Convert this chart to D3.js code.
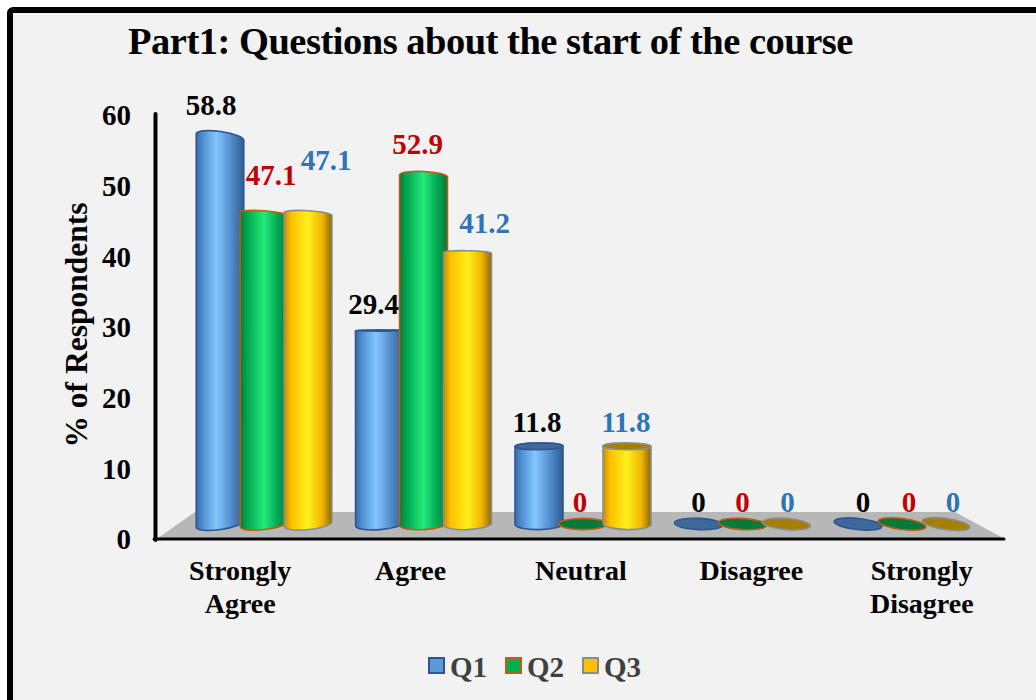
<!DOCTYPE html>
<html>
<head>
<meta charset="utf-8">
<script src="https://cdn.jsdelivr.net/npm/d3@7/dist/d3.min.js"></script>
<style>
html,body{margin:0;padding:0;background:#fff;overflow:hidden}
svg{display:block}
text{font-family:"Liberation Serif",serif;font-weight:bold}
</style>
</head>
<body>
<svg id="c" width="1036" height="700"></svg>
<script>
const categories = [["Strongly","Agree"],["Agree"],["Neutral"],["Disagree"],["Strongly","Disagree"]];
const seriesNames = ["Q1","Q2","Q3"];
const q1Values = [58.8, 29.4, 11.8, 0, 0];
const q2Values = [47.1, 52.9, 0, 0, 0];
const q3Values = [47.1, 41.2, 11.8, 0, 0];
const yTicks = [0,10,20,30,40,50,60];
const seriesValues = [q1Values, q2Values, q3Values];

// label nudges from the default spot above each bar: [series][category] -> [dx, dy]
const labelNudge = [
  [[-9,0],[-6,5],[-2,8],[0,10],[5,10]],
  [[7,-7],[-6,0],[-3,10],[0,10],[7,10]],
  [[18,-22],[17,2],[-1,8],[1,10],[7,10]]
];
const seriesStyle = [
  {stroke:"#2f5597", cap:"#3d6a98", label:"#000000", swatch:"#5b9bd5",
   stops:[[0,"#3a6aa2"],[.12,"#4b8ccd"],[.42,"#84c6ff"],[.75,"#4f8ac8"],[1,"#2f5c90"]]},
  {stroke:"#c55a11", cap:"#07793a", label:"#c00000", swatch:"#00b050",
   stops:[[0,"#007a3c"],[.15,"#00a650"],[.5,"#22ea7c"],[.8,"#00a450"],[1,"#00783a"]]},
  {stroke:"#8c8c8c", cap:"#a67f00", label:"#2e75b6", swatch:"#ffc000",
   stops:[[0,"#c28e00"],[.15,"#ffc000"],[.5,"#fff01c"],[.8,"#f0b400"],[1,"#8a6a00"]]}
];

const svg = d3.select("#c");
const defs = svg.append("defs");
seriesStyle.forEach((s,i)=>{
  const g = defs.append("linearGradient").attr("id","grad"+i).attr("x1",0).attr("x2",1).attr("y1",0).attr("y2",0);
  s.stops.forEach(st=>g.append("stop").attr("offset",st[0]).attr("stop-color",st[1]));
});

// page + frame
svg.append("rect").attr("x",10).attr("y",10).attr("width",1200).attr("height",900).attr("rx",3)
  .attr("fill","#f2f2f2").attr("stroke","#000").attr("stroke-width",6);

svg.append("text").attr("x",128).attr("y",54).attr("font-size",38.5).attr("letter-spacing",-0.49).attr("fill","#000")
  .text("Part1: Questions about the start of the course");

// floor
const floorBack = 512, floorFront = 538;
const yAxisScale = d3.scaleLinear().domain([0,60]).range([539,115]);
const yBar = d3.scaleLinear().domain([0,60]).range([524,129.2]);
const xBack = d3.scaleBand().domain(d3.range(categories.length)).range([184.25,981.75]);
const xFront = d3.scaleBand().domain(d3.range(categories.length)).range([155,1007]);

svg.append("path").attr("fill","#b7b7b7")
  .attr("d",d3.line()([[158,floorFront],[195,floorBack],[955,floorBack],[1003,floorFront]])+"Z");

// y axis
const yAxis = d3.axisLeft(yAxisScale).tickValues(yTicks).tickSize(0).tickPadding(0);
const gy = svg.append("g").attr("transform","translate(131,0)").call(yAxis);
gy.select(".domain").remove();
gy.selectAll("text").attr("font-size",29).attr("fill","#000")
  .style("font-family",'"Liberation Serif",serif').attr("dy","0.34em");

svg.append("line").attr("x1",155.5).attr("x2",155.5).attr("y1",114).attr("y2",540)
  .attr("stroke","#000").attr("stroke-width",4).attr("stroke-linecap","round");
svg.append("line").attr("x1",154).attr("x2",1004).attr("y1",539).attr("y2",539)
  .attr("stroke","#000").attr("stroke-width",3).attr("stroke-linecap","round");

svg.append("text").attr("transform","translate(87,325) rotate(-90)").attr("text-anchor","middle")
  .attr("font-size",31.5).attr("fill","#000").text("% of Respondents");

// cylinders
const eyeY = 330, eyeX = 580, baseY = yBar(0), rx = 24;
const tiltAt = (x,y)=> 0.022*(x-eyeX)*(y-eyeY)/(baseY-eyeY);
const ryAt = y=> Math.max(0.6, 5.6*Math.abs(y-eyeY)/(baseY-eyeY));
const ends = (cx,y,deg)=>{
  const t = deg*Math.PI/180;
  return {lx:cx-rx*Math.cos(t), ly:y-rx*Math.sin(t), rx:cx+rx*Math.cos(t), ry:y+rx*Math.sin(t)};
};
const inner = d3.scaleBand().domain(d3.range(seriesNames.length)).range([-66,66]);
const barsG = svg.append("g");
const labelsG = svg.append("g");
categories.forEach((c,ci)=>{
  const center = xBack(ci)+xBack.bandwidth()/2;
  seriesValues.forEach((vals,si)=>{
    const v = vals[ci], st = seriesStyle[si];
    const cx = center + inner(si) + inner.bandwidth()/2;
    const yT = yBar(v);
    const dTop = tiltAt(cx,yT), dBot = tiltAt(cx,baseY);
    const a = ends(cx,yT,dTop), b = ends(cx,baseY,dBot);
    const ryT = ryAt(yT), ryB = ryAt(baseY);
    if(v>0){
      const p = `M${a.lx},${a.ly}A${rx},${ryT} ${dTop} 0 1 ${a.rx},${a.ry}`+
                `L${b.rx},${b.ry}A${rx},${ryB} ${dBot} 0 1 ${b.lx},${b.ly}Z`;
      barsG.append("path").attr("d",p).attr("fill",`url(#grad${si})`)
        .attr("stroke",st.stroke).attr("stroke-width",1.6).attr("stroke-linejoin","round");
    }
    if(yT>eyeY){
      barsG.append("ellipse").attr("cx",cx).attr("cy",yT).attr("rx",rx).attr("ry",ryT)
        .attr("transform",`rotate(${dTop} ${cx} ${yT})`)
        .attr("fill",st.cap).attr("stroke",st.stroke).attr("stroke-width",1.6);
    }
    const n = labelNudge[si][ci];
    labelsG.append("text").attr("x",cx+n[0]).attr("y",yT-22+n[1]).attr("text-anchor","middle")
      .attr("font-size",29).attr("fill",st.label).text(v);
  });
  // category label
  const t = svg.append("text").attr("text-anchor","middle").attr("font-size",28).attr("fill","#000");
  c.forEach((line,i)=>t.append("tspan").attr("x",xFront(ci)+xFront.bandwidth()/2)
     .attr("y",580+i*33).text(line));
});

// legend
const legendX = d3.scaleBand().domain(seriesNames).range([428,659]);
seriesNames.forEach((n,i)=>{
  const x = legendX(n);
  svg.append("rect").attr("x",x+1).attr("y",658).attr("width",15).attr("height",15)
    .attr("fill",seriesStyle[i].swatch).attr("stroke",seriesStyle[i].stroke).attr("stroke-width",2);
  svg.append("text").attr("x",x+22).attr("y",677).attr("font-size",29).attr("fill","#404040").text(n);
});
</script>
</body>
</html>
